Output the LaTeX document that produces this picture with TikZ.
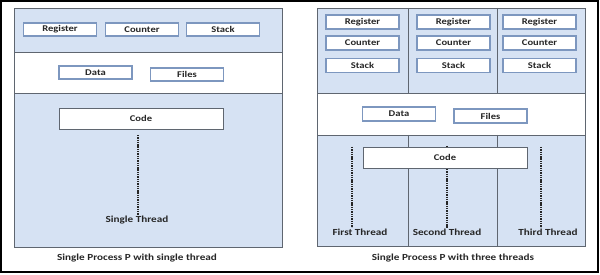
\documentclass[tikz,border=0pt]{standalone}
\usepackage{fontspec}
\setmainfont{Carlito}[FakeStretch=1.2]
\usepackage{tikz}
\usetikzlibrary{positioning}
\definecolor{bandblue}{HTML}{D6E2F3}
\definecolor{boxedge}{HTML}{7D97BF}
\definecolor{bandedge}{HTML}{5F6670}

\begin{document}
\begin{tikzpicture}[
    x=1pt, y=-1pt,
    part/.style={
        draw=boxedge,
        fill=white,
        line width=1.3pt,
        minimum width=73pt,
        minimum height=13pt,
        inner sep=0pt,
        font=\fontsize{8.8}{9}\selectfont\bfseries,
        text=black!85,
    },
    codebox/.style={
        part,
        draw=bandedge,
        line width=0.9pt,
        minimum width=164pt,
        minimum height=21pt,
    },
    band/.style={
        draw=bandedge,
        line width=0.9pt,
    },
    threadlabel/.style={
        inner sep=1pt,
        font=\fontsize{9.3}{10}\selectfont\bfseries,
        text=black!85,
    },
    thread/.style={
        line width=2pt,
        dash pattern=on 1.4pt off 0.9pt,
        color=black!85,
    },
    caption/.style={
        font=\fontsize{9.3}{10}\selectfont\bfseries,
        text=black!85,
    },
]
\useasboundingbox (0,0) rectangle (600,275);
\draw[line width=1.2pt] (1,1) rectangle (598,272);

% single thread
\fill[bandblue] (14,8) rectangle (282,247);
\fill[white] (14,52) rectangle (282,93);
\draw[band] (14,8) rectangle (282,247);
\draw[band] (14,52) -- (282,52);
\draw[band] (14,93) -- (282,93);

\node[part] (reg) at (60,29.5) {Register};
\node[part] (cnt) at (142,29.5) {Counter};
\node[part] (stk) at (223,29.5) {Stack};
\node[part] (data) at (95.5,72.5) {Data};
\node[part] (files) at (187,74.5) {Files};
\node[codebox] (code) at (141,118.5) {Code};
\node[threadlabel] (single) at (137,220) {Single Thread};
\coordinate (singletop) at (138,135);
\draw[thread] (singletop) -- (singletop |- single.north);
\node[caption] (capone) at (137,258) {Single Process P with single thread};

% three threads
\fill[bandblue] (317,8) rectangle (585,246);
\fill[white] (317,93) rectangle (585,135);
\draw[band] (317,8) rectangle (585,246);
\draw[band] (317,93) -- (585,93);
\draw[band] (317,135) -- (585,135);
\draw[band] (408,8) -- (408,93);
\draw[band] (497,8) -- (497,93);
\draw[band] (408,135) -- (408,246);
\draw[band] (497,135) -- (497,246);

\foreach \col/\cx in {a/362.5, b/453.5, c/539.5} {
    \node[part, minimum height=14pt] (reg\col) at (\cx,22) {Register};
    \node[part, minimum height=14pt] (cnt\col) at (\cx,43) {Counter};
    \node[part, minimum height=14pt] (stk\col) at (\cx,65.5) {Stack};
}
\node[part, minimum height=14pt] (datab) at (399,114) {Data};
\node[part, minimum height=14pt] (filesb) at (490.5,116) {Files};

\node[threadlabel] (first) at (360,232) {First Thread};
\node[threadlabel] (second) at (447,232) {Second Thread};
\node[threadlabel] (third) at (548,232) {Third Thread};
\coordinate (firsttop) at (352,147);
\coordinate (secondtop) at (447,146);
\coordinate (thirdtop) at (541,147);
\draw[thread] (firsttop) -- (firsttop |- first.north);
\draw[thread] (secondtop) -- (secondtop |- second.north);
\draw[thread] (thirdtop) -- (thirdtop |- third.north);
\node[codebox] (codeb) at (445,157.5) {Code};
\node[caption] (captwo) at (453,258) {Single Process P with three threads};
\end{tikzpicture}
\end{document}
